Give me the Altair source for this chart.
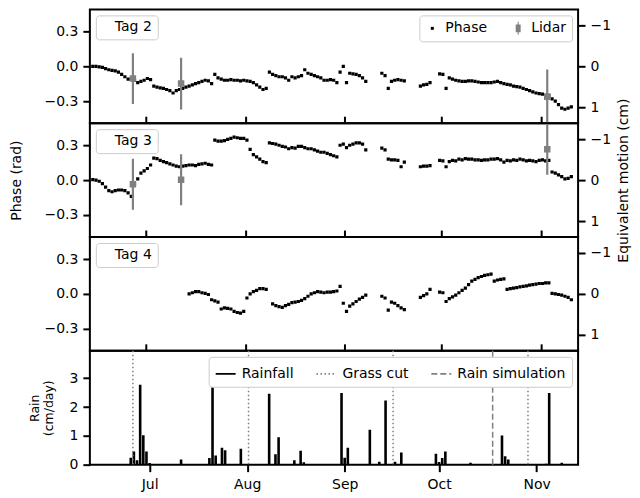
import altair as alt
import pandas as pd

# ---------------- data ----------------
FIRST_SAMPLE = pd.Timestamp("2019-06-14 12:00")   # first daily phase sample (noon)
CM_PER_RAD = 2.83                                   # right axis: equivalent motion = -phase * 2.83 cm

TAG23_DAY = list(range(0, 86)) + list(range(90, 98)) + list(range(102, 106)) + list(range(108, 150))
TAG4_DAY = list(range(30, 55)) + list(range(56, 86)) + list(range(90, 98)) + list(range(102, 106)) + list(range(108, 150))

TAG2_PHASE = [
    0.0, 0.0, -0.005, -0.01, -0.02, -0.03, -0.035, -0.04, -0.05, -0.07, -0.09, -0.11, -0.11, -0.12, -0.14, -0.13, -0.12, -0.105, -0.115,
    -0.17, -0.18, -0.185, -0.19, -0.2, -0.21, -0.23, -0.21, -0.2, -0.19, -0.18, -0.17, -0.16, -0.15, -0.14, -0.13, -0.12, -0.125, -0.15,
    -0.07, -0.1, -0.11, -0.12, -0.12, -0.115, -0.12, -0.12, -0.125, -0.12, -0.125, -0.13, -0.14, -0.16, -0.18, -0.2, -0.19,
    -0.05, -0.07, -0.08, -0.09, -0.09, -0.1, -0.12, -0.09, -0.1, -0.09, -0.08, -0.03, -0.06, -0.07, -0.08, -0.09, -0.1, -0.12, -0.12, -0.115, -0.12, -0.14,
    -0.05, 0.0, -0.14, -0.06, -0.065, -0.07, -0.08, -0.1, -0.13,
    -0.06, -0.08, -0.19, -0.13, -0.12, -0.115, -0.12, -0.125,
    -0.17, -0.16, -0.155, -0.14,
    -0.065, -0.07, -0.19, -0.1, -0.11, -0.12, -0.125, -0.13, -0.13, -0.125,
    -0.125, -0.13, -0.135, -0.14, -0.14, -0.14, -0.14, -0.135, -0.13,
    -0.14, -0.15, -0.155, -0.16, -0.17, -0.175, -0.18, -0.19, -0.2, -0.21, -0.22, -0.23, -0.235,
    -0.24, -0.25, -0.25,
    -0.28, -0.3, -0.33, -0.36, -0.37, -0.36, -0.35,
]
TAG3_PHASE = [
    0.005, 0.0, -0.01, -0.03, -0.06, -0.09, -0.1, -0.09, -0.085, -0.085, -0.09, -0.11, -0.14, -0.035, 0.01, 0.06, 0.08, 0.1, 0.13,
    0.19, 0.185, 0.17, 0.16, 0.15, 0.14, 0.13, 0.12, 0.115, 0.12, 0.125, 0.13, 0.13, 0.125, 0.135, 0.14, 0.145, 0.135, 0.13,
    0.345, 0.335, 0.335, 0.34, 0.35, 0.36, 0.37, 0.365, 0.36, 0.36, 0.345, 0.265, 0.22, 0.2, 0.18, 0.16, 0.15,
    0.32, 0.315, 0.31, 0.3, 0.29, 0.285, 0.27, 0.28, 0.275, 0.29, 0.29, 0.28, 0.27, 0.27, 0.26, 0.25, 0.24, 0.24, 0.23, 0.22, 0.21, 0.2,
    0.3, 0.31, 0.28, 0.3, 0.31, 0.32, 0.32, 0.31, 0.26,
    0.275, 0.26, 0.18, 0.175, 0.175, 0.17, 0.115, 0.155,
    0.115, 0.12, 0.12, 0.125,
    0.17, 0.165, 0.115, 0.16, 0.17, 0.165, 0.18, 0.175, 0.185, 0.18,
    0.18, 0.175, 0.175, 0.17, 0.175, 0.175, 0.18, 0.18, 0.185,
    0.175, 0.155, 0.17, 0.165, 0.175, 0.17, 0.18, 0.175, 0.165, 0.17, 0.165, 0.16, 0.17,
    0.175, 0.165, 0.17,
    0.07, 0.06, 0.045, 0.03, 0.01, 0.015, 0.03,
]
TAG4_PHASE = [
    0.0, 0.01, 0.02, 0.02, 0.01, 0.005, -0.005, -0.05, -0.06, -0.07, -0.13, -0.12, -0.125, -0.13, -0.15, -0.16, -0.165, -0.15,
    -0.035, 0.0, 0.02, 0.03, 0.045, 0.045, 0.04,
    -0.085, -0.1, -0.11, -0.115, -0.1, -0.09, -0.075, -0.07, -0.065, -0.055, -0.04, -0.02, 0.0, 0.01, 0.02, 0.015, 0.01, 0.015,
    0.015, 0.02, 0.025, 0.065, -0.08, -0.15, -0.105, -0.085, -0.065, -0.045, -0.03, -0.01,
    -0.02, -0.035, -0.14, -0.07, -0.08, -0.1, -0.12, -0.135,
    -0.03, -0.015, 0.0, 0.04,
    0.015, 0.01, -0.065, -0.04, -0.025, -0.01, 0.01, 0.03, 0.05, 0.08,
    0.11, 0.125, 0.14, 0.15, 0.16, 0.165, 0.17,
    0.11, 0.12, 0.125, 0.13,
    0.04, 0.045, 0.05, 0.055, 0.06, 0.065, 0.07, 0.075, 0.08, 0.085, 0.09, 0.09, 0.095, 0.095,
    0.005, 0.0, -0.005, -0.01, -0.02, -0.03, -0.05,
]

LIDAR_DATES = ["2019-06-27", "2019-07-12", "2019-11-03"]
LIDAR_TAG2_CM = [0.30, 0.42, 0.74]
LIDAR_TAG2_ERR = [0.62, 0.63, 0.66]
LIDAR_TAG3_CM = [0.10, -0.01, -0.75]
LIDAR_TAG3_ERR = [0.62, 0.62, 0.62]

RAIN_DATES = [
    "2019-06-25", "2019-06-26", "2019-06-27", "2019-06-28", "2019-06-29", "2019-06-30", "2019-07-01",
    "2019-07-11", "2019-07-20", "2019-07-21", "2019-07-22", "2019-07-24", "2019-07-25", "2019-07-30",
    "2019-08-08", "2019-08-10", "2019-08-11", "2019-08-16", "2019-08-18", "2019-08-19", "2019-08-31",
    "2019-09-01", "2019-09-02", "2019-09-09", "2019-09-12", "2019-09-14", "2019-09-17", "2019-09-19",
    "2019-09-30", "2019-10-01", "2019-10-02", "2019-10-03", "2019-10-11", "2019-10-21", "2019-10-22",
    "2019-10-23", "2019-11-04", "2019-11-05", "2019-11-09",
]
RAIN_CM = [
    0.24, 0.46, 0.15, 2.77, 1.02, 0.46, 0.06,
    0.18, 0.23, 2.8, 0.32, 0.59, 0.5, 0.55,
    2.46, 0.36, 0.95, 0.15, 0.48, 0.08, 2.49,
    0.24, 0.59, 1.21, 0.1, 2.23, 0.1, 0.42,
    0.38, 0.09, 0.23, 0.46, 0.07, 1.01, 0.29,
    0.18, 0.03, 2.49, 0.07,
]
GRASS_CUT_DATES = ["2019-06-27", "2019-08-02", "2019-09-16", "2019-10-28"]
RAIN_SIM_DATES = ["2019-10-17"]

MONTHS = [7, 8, 9, 10, 11]
PHASE_TICKS = [-0.3, 0.0, 0.3]
CM_TICKS = [-1, 0, 1]
RAIN_TICKS = [0, 1, 2, 3]
SERIES = ["Phase", "Lidar"]
EVENTS = ["Rainfall", "Grass cut", "Rain simulation"]

# ---------------- tables ----------------
def phase_table(days, phase, tag):
    dates = [(FIRST_SAMPLE + pd.Timedelta(days=d)).strftime("%Y-%m-%dT%H:%M:%SZ") for d in days]
    return pd.DataFrame({"date": dates, "phase": phase,
                         "cm": [-p * CM_PER_RAD for p in phase],
                         "series": "Phase", "tag": tag})

def lidar_table(cm, err):
    return pd.DataFrame({"date": LIDAR_DATES, "cm": cm,
                         "lo": [c - e for c, e in zip(cm, err)],
                         "hi": [c + e for c, e in zip(cm, err)],
                         "series": "Lidar"})

tag2 = phase_table(TAG23_DAY, TAG2_PHASE, "Tag 2")
tag3 = phase_table(TAG23_DAY, TAG3_PHASE, "Tag 3")
tag4 = phase_table(TAG4_DAY, TAG4_PHASE, "Tag 4")
lid2 = lidar_table(LIDAR_TAG2_CM, LIDAR_TAG2_ERR)
lid3 = lidar_table(LIDAR_TAG3_CM, LIDAR_TAG3_ERR)
rain = pd.DataFrame({"date": RAIN_DATES, "rain": RAIN_CM})
events = pd.DataFrame({"date": GRASS_CUT_DATES + RAIN_SIM_DATES,
                       "series": ["Grass cut"] * len(GRASS_CUT_DATES) + ["Rain simulation"] * len(RAIN_SIM_DATES)})

# ---------------- styling ----------------
FONT = "DejaVu Sans"
W, H = 489, 114
GREY = "#808080"
PHASE_PATH = "M-0.23,-0.23H0.23V0.23H-0.23Z"
LIDAR_PATH = "M-0.38,-0.6H0.38V0.6H-0.38Z M-0.08,-1H0.08V1H-0.08Z"

month_vals = [alt.DateTime(year=2019, month=m, date=1, utc=True) for m in MONTHS]
xscale = alt.Scale(type="utc", domain=[alt.DateTime(year=2019, month=6, date=13, hours=14, minutes=24, utc=True),
                                       alt.DateTime(year=2019, month=11, date=12, hours=14, minutes=24, utc=True)])
phase_scale = alt.Scale(domain=[-0.49, 0.49], nice=False, zero=False)
cm_scale = alt.Scale(domain=[-0.49 * CM_PER_RAD, 0.49 * CM_PER_RAD], nice=False, zero=False, reverse=True)
series_color = alt.Scale(domain=SERIES, range=["black", GREY])
series_shape = alt.Scale(domain=SERIES, range=[PHASE_PATH, LIDAR_PATH])

box = dict(strokeColor="#cccccc", fillColor="white", cornerRadius=3, title=None)

phase_legend = alt.Legend(orient="top-right", direction="horizontal", offset=6, padding=6,
                          symbolSize=169, symbolStrokeWidth=0, labelOffset=6, columnPadding=24,
                          labelFontSize=14, labelFont=FONT, **box)

def tag_legend():
    return alt.Legend(orient="top-left", offset=6, padding=5, symbolSize=0, symbolStrokeWidth=0,
                      symbolOpacity=0, labelOffset=0, labelFontSize=14, labelFont=FONT, **box)

top_axis = alt.Axis(orient="top", labels=False, values=month_vals, title=None)

def xenc(axis):
    return alt.X("date:T", scale=xscale, axis=axis, title=None)

def tag_panel(df, lid, legend, mid, top):
    xa = top_axis if top else None
    pts = alt.Chart(df).mark_point(filled=True, size=193, opacity=1, clip=True).encode(
        x=xenc(xa),
        y=alt.Y("phase:Q", scale=phase_scale,
                axis=alt.Axis(values=PHASE_TICKS, format=".1f", title="Phase (rad)" if mid else None,
                              titlePadding=20)),
        color=alt.Color("series:N", scale=series_color, legend=phase_legend if legend else None),
        shape=alt.Shape("series:N", scale=series_shape, legend=phase_legend if legend else None),
        opacity=alt.Opacity("tag:N", scale=alt.Scale(range=[1]), legend=tag_legend()),
    )
    right_axis = alt.Axis(orient="right", values=CM_TICKS, format="d",
                          title="Equivalent motion (cm)" if mid else None,
                          titleAngle=270, titleBaseline="top", titlePadding=6)
    layers = [pts]
    if lid is not None:
        bars = alt.Chart(lid).mark_rule(strokeWidth=2.2, clip=True).encode(
            x=xenc(xa),
            y=alt.Y("lo:Q", scale=cm_scale, axis=right_axis),
            y2="hi:Q",
            color=alt.Color("series:N", scale=series_color, legend=None),
        )
        sq = alt.Chart(lid).mark_square(size=42, opacity=1, clip=True).encode(
            x=xenc(xa),
            y=alt.Y("cm:Q", scale=cm_scale, axis=None),
            color=alt.Color("series:N", scale=series_color, legend=None),
        )
        layers += [bars, sq]
    else:
        ghost = alt.Chart(df).mark_point(opacity=0).encode(
            x=xenc(xa),
            y=alt.Y("cm:Q", scale=cm_scale, axis=right_axis),
        )
        layers.append(ghost)
    return alt.layer(*layers).resolve_scale(y="independent").properties(width=W, height=H)

p1 = tag_panel(tag2, lid2, legend=True, mid=False, top=False)
p2 = tag_panel(tag3, lid3, legend=False, mid=True, top=True)
p3 = tag_panel(tag4, None, legend=False, mid=False, top=True)

event_color = alt.Scale(domain=EVENTS, range=["black", GREY, GREY])
event_dash = alt.Scale(domain=EVENTS, range=[[1, 0], [1.5, 2.5], [6, 3]])
event_legend = alt.Legend(orient="top-right", direction="horizontal", offset=6, padding=6,
                          symbolType="stroke", symbolSize=400, symbolStrokeWidth=1.8, labelOffset=5,
                          columnPadding=18, labelFontSize=14, labelFont=FONT, **box)

rain_bars = alt.Chart(rain).mark_bar(width=2.6, color="black", clip=True).encode(
    x=alt.X("date:T", scale=xscale, title=None,
            axis=alt.Axis(orient="bottom", values=month_vals, format="%b", labelPadding=6)),
    y=alt.Y("rain:Q", scale=alt.Scale(domain=[0, 3.95], nice=False),
            axis=alt.Axis(values=RAIN_TICKS, format="d", title=["Rain", "(cm/day)"],
                          titleFontSize=12.5, titleLineHeight=13.5, titlePadding=14)),
)
rules = alt.Chart(events).mark_rule(strokeWidth=1.5).encode(
    x=alt.X("date:T", scale=xscale, axis=top_axis, title=None),
    color=alt.Color("series:N", scale=event_color, legend=event_legend),
    strokeDash=alt.StrokeDash("series:N", scale=event_dash, legend=event_legend),
)
p4 = alt.layer(rain_bars, rules).resolve_scale(x="independent").properties(width=W, height=H)

chart = alt.vconcat(p1, p2, p3, p4, spacing=0, bounds="flush").resolve_scale(
    color="independent", shape="independent", opacity="independent", strokeDash="independent",
    x="independent", y="independent",
).resolve_legend(
    color="independent", shape="independent", opacity="independent", strokeDash="independent",
).properties(
    padding={"left": 1, "top": 0, "right": 0, "bottom": 0}
).configure_view(
    stroke="black", strokeWidth=2
).configure_axis(
    labelFont=FONT, titleFont=FONT, labelFontSize=14, titleFontSize=14, labelColor="black",
    titleColor="black", titleFontWeight="normal", tickColor="black", tickWidth=2, tickSize=7,
    labelPadding=5, grid=False, domain=False,
)

chart.save("out.html", embed_options={"renderer": "svg", "actions": False})
